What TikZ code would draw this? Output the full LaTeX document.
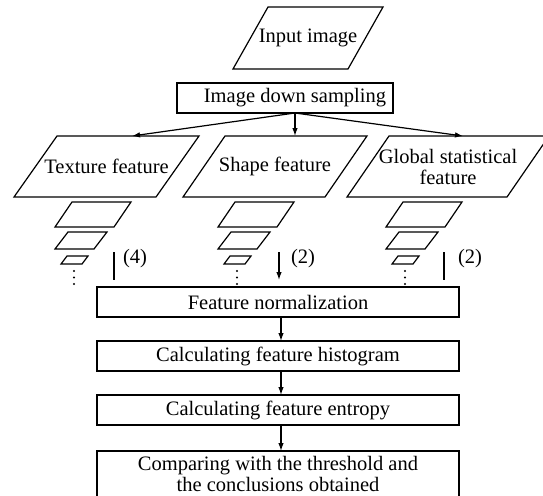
\documentclass[tikz,border=0pt]{standalone}
\usepackage{fontspec}
\setmainfont{Liberation Serif}
\usetikzlibrary{calc,arrows.meta}
\newcommand\pgram[2]{\draw[line width=1.2pt,line join=miter] ($(#1.north west)+(#2,0)$) -- (#1.north east) -- ($(#1.south east)+(-#2,0)$) -- (#1.south west) -- cycle;}
\newcommand\stackp[2]{%
 \node[pbox,minimum width=76pt,minimum height=25pt] (#1a) at (#2+38,214.5) {};
 \pgram{#1a}{17}
 \node[pbox,minimum width=52pt,minimum height=17pt] (#1b) at (#2+26,240.5) {};
 \pgram{#1b}{13}
 \node[pbox,minimum width=27pt,minimum height=8pt] (#1c) at (#2+19.5,260) {};
 \pgram{#1c}{6}
 \foreach \yy in {271,277.5,284} \fill (#2+19,\yy) circle (1.2pt);
}
\begin{document}
\begin{tikzpicture}[x=1pt,y=-1pt,
  every node/.style={font=\fontsize{20.5pt}{21pt}\selectfont},
  ln/.style={line width=1.2pt},
  pbox/.style={inner sep=0pt,outer sep=0pt,align=center},
  rbox/.style={draw,line width=1.2pt,inner sep=0pt,outer sep=0pt,minimum width=362pt,minimum height=30pt,align=center},
  arr/.style={line width=1.2pt,-{Latex[length=8pt,width=5.5pt]}}]
\useasboundingbox (0,0) rectangle (543,495);

\node[pbox,minimum width=150pt,minimum height=62pt] (inp) at (308,38) {Input image};
\pgram{inp}{35}
\node[rbox,minimum width=216pt] (ds) at (285,98) {\hspace*{20pt}Image down sampling};

\node[pbox,minimum width=185pt,minimum height=61pt] (tex) at (106.5,166.5) {Texture feature};
\pgram{tex}{43}
\node[pbox,minimum width=184pt,minimum height=61pt] (shp) at (275,166.5) {Shape feature};
\pgram{shp}{42}
\node[pbox,minimum width=202pt,minimum height=61pt] (glb) at (448,166.5) {Global statistical\\feature};
\pgram{glb}{42}

\coordinate (dsb) at ([xshift=10pt]ds.south);
\draw[arr] (dsb) -- ([xshift=25.5pt]tex.north);
\draw[arr] (dsb) -- ([xshift=20pt]shp.north);
\draw[arr] (dsb) -- ([xshift=15pt]glb.north);

\stackp{t}{55}
\stackp{s}{218}
\stackp{g}{386}

\coordinate (tl1) at (114,252); \coordinate (tl2) at (114,280);
\draw[ln] (tl1) -- (tl2);
\node (tlab) at (135,259) {(4)};
\coordinate (sl1) at (279,252); \coordinate (sl2) at (279,280);
\draw[arr] (sl1) -- (sl2);
\node (slab) at (303,259) {(2)};
\coordinate (gl1) at (444,252); \coordinate (gl2) at (444,280);
\draw[ln] (gl1) -- (gl2);
\node (glab) at (470,259) {(2)};

\node[rbox] (b1) at (278,302) {Feature normalization};
\node[rbox] (b2) at (278,356) {Calculating feature histogram};
\node[rbox] (b3) at (278,410) {Calculating feature entropy};
\node[rbox,minimum height=46pt] (b4) at (278,474) {Comparing with the threshold and\\the conclusions obtained};
\draw[arr] ([xshift=3pt]b1.south) -- ([xshift=3pt]b2.north);
\draw[arr] ([xshift=3pt]b2.south) -- ([xshift=3pt]b3.north);
\draw[arr] ([xshift=3pt]b3.south) -- ([xshift=3pt]b4.north);
\end{tikzpicture}
\end{document}
